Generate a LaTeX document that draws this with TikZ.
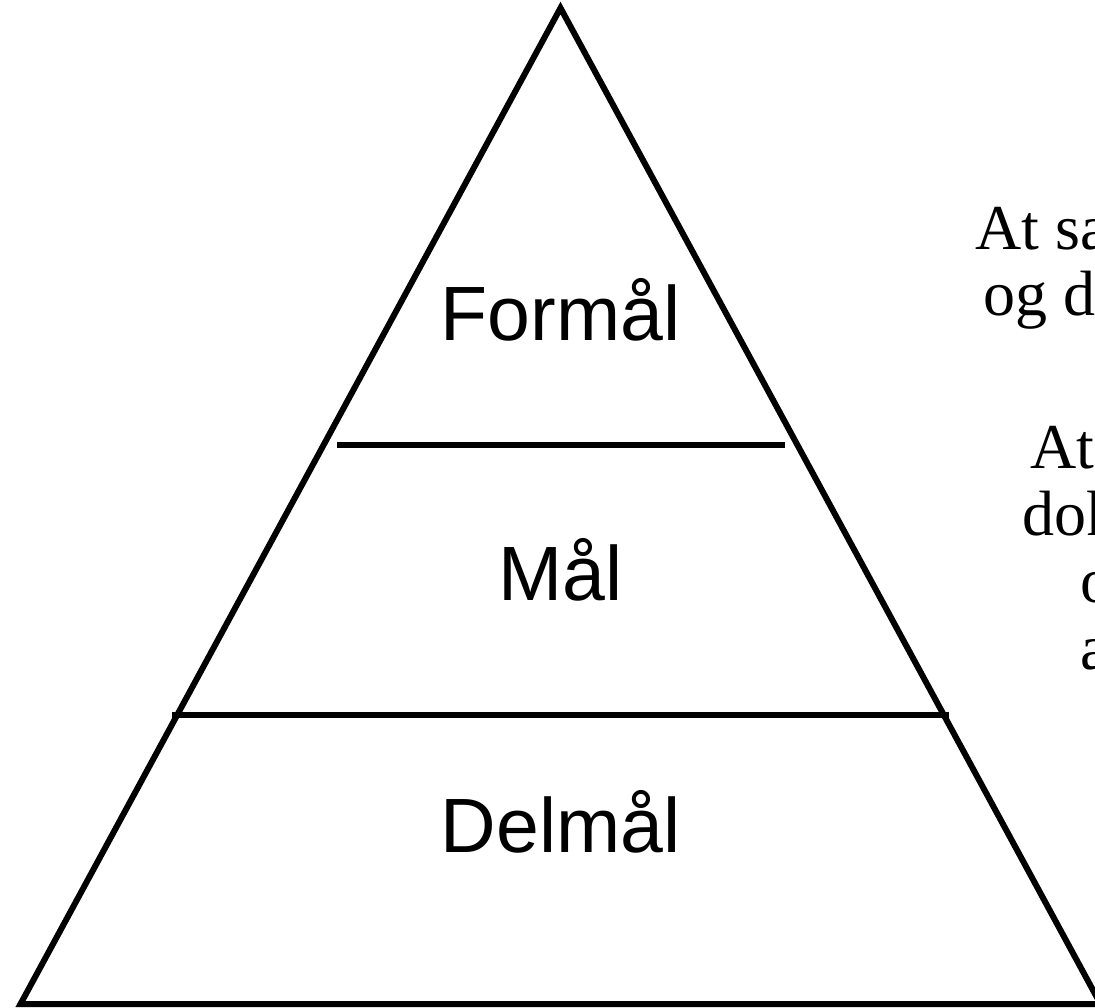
\documentclass[tikz,border=0pt]{standalone}
\usepackage{fontspec}
\setmainfont{Liberation Serif}
\newfontfamily\labelfont{Liberation Sans}
\begin{document}
\begin{tikzpicture}[x=1pt,y=-1pt,
  edge/.style={line width=6pt, line join=miter},
  tier/.style={font=\labelfont\fontsize{77}{84}\selectfont, anchor=base, inner sep=0pt},
  note/.style={font=\fontsize{64}{70}\selectfont, anchor=base west, inner sep=0pt}]
\useasboundingbox (0,0) rectangle (1095,1008);
\clip (0,0) rectangle (1095,1008);
% triangle
\coordinate (apex) at (560.5,8);
\coordinate (bl) at (20.5,1004);
\coordinate (br) at (1100.5,1004);
\draw[edge] (bl) -- (apex) -- (br) -- cycle;
% dividers
\coordinate (d1l) at (337,445);
\coordinate (d1r) at (785,445);
\draw[edge] (d1l) -- (d1r);
\coordinate (d2l) at (172,715);
\coordinate (d2r) at (949,715);
\draw[edge] (d2l) -- (d2r);
% tier labels
\node[tier] (formal) at (560.5,341) {Formål};
\node[tier] (mal) at (560.5,600) {Mål};
\node[tier] (delmal) at (560.5,852) {Delmål};
% right-hand notes (cut off by the page edge)
\node[note] (n1) at (975,250) {At sammenfatte};
\node[note] (n2) at (983,316) {og dokumentere};
\node[note] (n3) at (1030,468) {At kunne};
\node[note] (n4) at (1022,535) {dokumentere};
\node[note] (n5) at (1080,602) {og};
\node[note] (n6) at (1080,669) {anvende};
\end{tikzpicture}
\end{document}
